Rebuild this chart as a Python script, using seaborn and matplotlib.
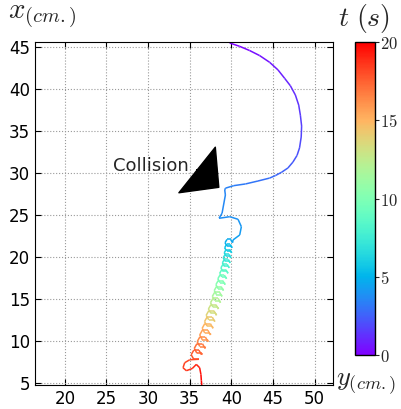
import numpy as np
import pandas as pd
import matplotlib
matplotlib.use('Agg')
import matplotlib.pyplot as plt
import seaborn as sns
from matplotlib.collections import LineCollection
from matplotlib.colors import Normalize

# trajectory: horizontal = y (cm), vertical = x (cm), t in s
arc_y = [39.8, 41.0, 42.2, 43.4, 44.6, 45.6, 46.4, 47.1, 47.7, 48.1, 48.3, 48.45,
         48.4, 48.2, 47.9, 47.4, 46.8, 46.05, 45.3, 44.6, 43.2, 41.7, 40.3, 39.3]
arc_x = [45.5, 45.1, 44.6, 44.0, 43.2, 42.3, 41.3, 40.4, 39.3, 38.1, 36.9, 35.6,
         34.3, 33.0, 32.1, 31.3, 30.6, 30.1, 29.7, 29.4, 29.05, 28.7, 28.5, 28.2]
arc_t = [0.0, 0.15, 0.3, 0.45, 0.6, 0.75, 0.9, 1.05, 1.2, 1.35, 1.5, 1.65,
         1.8, 2.0, 2.15, 2.3, 2.45, 2.55, 2.7, 2.8, 3.0, 3.2, 3.35, 3.45]

hook_y = [39.21, 39.29, 38.89, 38.53, 39.81, 40.81, 41.21, 41.01, 40.21]
hook_x = [27.98, 27.39, 25.21, 24.61, 24.80, 24.49, 23.61, 22.62, 22.03]
hook_t = [3.5, 3.55, 3.7, 3.75, 3.85, 3.95, 4.1, 4.25, 4.4]

# the small loops, one row per loop
loops_y = [
    40.15, 39.92, 39.48, 39.25, 39.48, 39.92,
    40.10, 39.87, 39.43, 39.20, 39.43, 39.87,
    40.05, 39.82, 39.38, 39.15, 39.38, 39.82,
    39.97, 39.74, 39.26, 39.03, 39.26, 39.74,
    39.87, 39.64, 39.16, 38.93, 39.16, 39.64,
    39.75, 39.50, 39.00, 38.75, 39.00, 39.50,
    39.60, 39.35, 38.85, 38.60, 38.85, 39.35,
    39.42, 39.16, 38.64, 38.38, 38.64, 39.16,
    39.25, 38.98, 38.42, 38.15, 38.42, 38.98,
    39.05, 38.78, 38.22, 37.95, 38.22, 38.78,
    38.88, 38.59, 38.01, 37.72, 38.01, 38.59,
    38.70, 38.40, 37.80, 37.50, 37.80, 38.40,
    38.45, 38.15, 37.55, 37.25, 37.55, 38.15,
    38.22, 37.91, 37.29, 36.98, 37.29, 37.91,
    38.02, 37.71, 37.09, 36.78, 37.09, 37.71,
    37.80, 37.48, 36.82, 36.50, 36.82, 37.48,
    37.50, 37.18, 36.52, 36.20, 36.52, 37.18,
    37.20, 36.88, 36.22, 35.90, 36.22, 36.88,
    36.85, 36.53, 35.87, 35.55, 35.87, 36.53,
    36.42, 36.11, 35.49, 35.18, 35.49, 36.11,
]
loops_x = [
    21.70, 22.09, 22.09, 21.70, 21.31, 21.31,
    21.10, 21.49, 21.49, 21.10, 20.71, 20.71,
    20.50, 20.89, 20.89, 20.50, 20.11, 20.11,
    19.90, 20.31, 20.31, 19.90, 19.49, 19.49,
    19.30, 19.71, 19.71, 19.30, 18.89, 18.89,
    18.70, 19.13, 19.13, 18.70, 18.27, 18.27,
    18.05, 18.48, 18.48, 18.05, 17.62, 17.62,
    17.40, 17.85, 17.85, 17.40, 16.95, 16.95,
    16.70, 17.18, 17.18, 16.70, 16.22, 16.22,
    16.00, 16.48, 16.48, 16.00, 15.52, 15.52,
    15.30, 15.80, 15.80, 15.30, 14.80, 14.80,
    14.55, 15.07, 15.07, 14.55, 14.03, 14.03,
    13.80, 14.32, 14.32, 13.80, 13.28, 13.28,
    13.05, 13.59, 13.59, 13.05, 12.51, 12.51,
    12.30, 12.84, 12.84, 12.30, 11.76, 11.76,
    11.50, 12.07, 12.07, 11.50, 10.93, 10.93,
    10.70, 11.27, 11.27, 10.70, 10.13, 10.13,
    9.90, 10.47, 10.47, 9.90, 9.33, 9.33,
    9.10, 9.67, 9.67, 9.10, 8.53, 8.53,
    8.35, 8.89, 8.89, 8.35, 7.81, 7.81,
]
loops_t = [
    4.5, 4.61, 4.72, 4.83, 4.94, 5.05,
    5.2, 5.31, 5.42, 5.53, 5.64, 5.75,
    5.9, 6.01, 6.12, 6.23, 6.34, 6.45,
    6.6, 6.71, 6.82, 6.93, 7.04, 7.15,
    7.25, 7.36, 7.47, 7.58, 7.69, 7.8,
    7.9, 8.01, 8.12, 8.23, 8.34, 8.45,
    8.6, 8.71, 8.82, 8.93, 9.04, 9.15,
    9.3, 9.41, 9.52, 9.63, 9.74, 9.85,
    10.0, 10.11, 10.22, 10.33, 10.44, 10.55,
    10.7, 10.81, 10.92, 11.03, 11.14, 11.25,
    11.35, 11.46, 11.57, 11.68, 11.79, 11.9,
    12.0, 12.11, 12.22, 12.33, 12.44, 12.55,
    12.7, 12.81, 12.92, 13.03, 13.14, 13.25,
    13.4, 13.51, 13.62, 13.73, 13.84, 13.95,
    14.1, 14.21, 14.32, 14.43, 14.54, 14.65,
    14.75, 14.86, 14.97, 15.08, 15.19, 15.3,
    15.4, 15.51, 15.62, 15.73, 15.84, 15.95,
    16.1, 16.21, 16.32, 16.43, 16.54, 16.65,
    16.8, 16.91, 17.02, 17.13, 17.24, 17.35,
    17.4, 17.51, 17.62, 17.73, 17.84, 17.95,
]

curl_y = [35.0, 34.4, 34.2, 34.6, 35.3, 35.8, 36.2, 36.35, 36.4, 36.45]
curl_x = [7.75, 7.4, 6.8, 6.45, 6.7, 7.2, 6.8, 6.0, 5.3, 4.75]
curl_t = [18.05, 18.2, 18.4, 18.6, 18.8, 19.0, 19.3, 19.6, 19.8, 20.0]

collision_y = 38.5
collision_x = 28.3

x_ticks = [20, 25, 30, 35, 40, 45, 50]
y_ticks = [5, 10, 15, 20, 25, 30, 35, 40, 45]
cbar_ticks = [0, 5, 10, 15, 20]

df = pd.DataFrame({
    'y': arc_y + hook_y + loops_y + curl_y,
    'x': arc_x + hook_x + loops_x + curl_x,
    't': arc_t + hook_t + loops_t + curl_t,
})

sns.set_style('white', rc={
    'axes.grid': True,
    'grid.linestyle': ':',
    'grid.color': '0.6',
    'grid.linewidth': 0.8,
    'axes.edgecolor': 'black',
    'axes.linewidth': 1.0,
    'xtick.direction': 'in',
    'ytick.direction': 'in',
    'xtick.top': True,
    'ytick.right': True,
    'xtick.bottom': True,
    'ytick.left': True,
})
plt.rcParams['font.family'] = ['DejaVu Sans']
plt.rcParams['mathtext.fontset'] = 'cm'

fig = plt.figure(figsize=(4.01, 4.09), dpi=100)
ax = fig.add_axes([0.087, 0.059, 0.743, 0.838])

cmap = sns.color_palette('rainbow', as_cmap=True)
norm = Normalize(0, 20)
pts = df[['y', 'x']].to_numpy()
segs = np.stack([pts[:-1], pts[1:]], axis=1)
tt = df['t'].to_numpy()
lc = LineCollection(segs, cmap=cmap, norm=norm, linewidth=1.1)
lc.set_array((tt[:-1] + tt[1:]) / 2)
ax.add_collection(lc)

ax.set_xlim(16.4, 52.2)
ax.set_ylim(4.76, 45.6)
ax.set_xticks(x_ticks)
ax.set_yticks(y_ticks)
ax.tick_params(labelsize=12, length=4, width=0.8, colors='black')
for s in ax.spines.values():
    s.set_visible(True)
    s.set_color('black')

# collision marker
ax.annotate('', xy=(collision_y, collision_x), xytext=(35.85, 30.4),
            arrowprops=dict(facecolor='black', edgecolor='black', width=0.01,
                            headwidth=42, headlength=20, shrink=0.0))
ax.text(30.3, 30.8, 'Collision', fontsize=13, ha='center', va='center')

fig.text(0.02, 0.992, r'$x_{(cm.)}$', fontsize=21, ha='left', va='top')
fig.text(0.838, 0.062, r'$y_{(cm.)}$', fontsize=19, ha='left', va='center')
fig.text(0.843, 0.995, r'$t\ (s)$', fontsize=20, ha='left', va='top')

cax = fig.add_axes([0.885, 0.132, 0.05, 0.765])
cb = fig.colorbar(lc, cax=cax, ticks=cbar_ticks)
cb.ax.set_yticklabels([f'${v}$' for v in cbar_ticks])
cb.ax.tick_params(labelsize=12, length=3, width=0.8, direction='out', pad=1)
cb.outline.set_linewidth(1.0)
cb.outline.set_edgecolor('black')

fig.savefig('out.png', dpi=100)
